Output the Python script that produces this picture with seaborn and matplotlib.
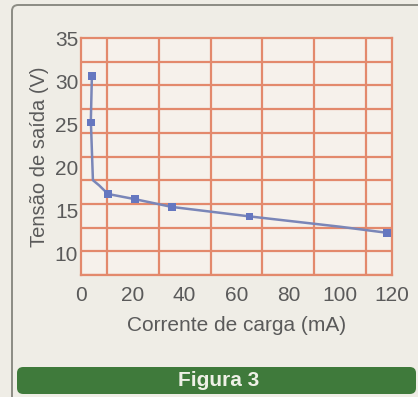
import numpy as np
import pandas as pd
import matplotlib
matplotlib.use("Agg")
import matplotlib.pyplot as plt
from matplotlib.patches import FancyBboxPatch
from matplotlib.ticker import FixedLocator, MultipleLocator
import seaborn as sns

# Data
current_line = [4.2, 3.8, 4.6, 7.0, 10.4, 20.8, 35.0, 65.0, 100.0, 118.0]
voltage_line = [30.6, 25.4, 18.5, 17.9, 16.9, 16.3, 15.4, 14.3, 13.1, 12.4]
current_marks = [4.2, 3.8, 10.4, 20.8, 35.0, 65.0, 118.0]
voltage_marks = [30.6, 25.2, 16.9, 16.3, 15.4, 14.3, 12.4]
x_ticks = [0, 20, 40, 60, 80, 100, 120]
y_ticks = [10, 15, 20, 25, 30, 35]
x_label = "Corrente de carga (mA)"
y_label = "Tensão de saída (V)"
caption = "Figura 3"

sns.set_theme(style="white")
plt.rcParams["font.family"] = ["Liberation Sans", "DejaVu Sans"]

fig_bg = "#efede6"
ax_bg = "#f6f1eb"
grid_c = "#e3896c"
text_c = "#5a5a5a"

fig = plt.figure(figsize=(4.18, 3.97), dpi=100, facecolor=fig_bg)

# outer frame (top and left lines with rounded corner)
frame = FancyBboxPatch((12 / 418, -0.2), 1.2, (392 - 5 + 80) / 397 + 0.0,
                       boxstyle="round,pad=0,rounding_size=0.015",
                       transform=fig.transFigure, facecolor="none",
                       edgecolor="#8c8c84", linewidth=1.4)
frame.set_bounds(12 / 418, -0.1, 1.2, 1 - 5 / 397 + 0.1)
fig.patches.append(frame)

ax = fig.add_axes([81 / 418, 1 - 275 / 397, 311 / 418, 237 / 397])
ax.set_facecolor(ax_bg)

df_line = pd.DataFrame({"x": current_line, "y": voltage_line})
df_marks = pd.DataFrame({"x": current_marks, "y": voltage_marks})

sns.lineplot(data=df_line, x="x", y="y", ax=ax, color="#7a86b8",
             linewidth=1.8, sort=False, estimator=None, zorder=3)
sns.scatterplot(data=df_marks, x="x", y="y", ax=ax, color="#6577c0",
                marker="s", s=30, edgecolor="none", zorder=4)

ax.set_xlim(0, 120)
ax.set_ylim(7.5, 35)
ax.xaxis.set_major_locator(FixedLocator(x_ticks))
ax.xaxis.set_minor_locator(MultipleLocator(10))
ax.yaxis.set_major_locator(FixedLocator(y_ticks))
ax.yaxis.set_minor_locator(FixedLocator(list(np.linspace(7.5, 35, 11))))
ax.grid(False)
ax.grid(which="minor", color=grid_c, linewidth=1.6)
ax.tick_params(which="both", length=0)
ax.tick_params(axis="x", pad=8, labelsize=15, labelcolor=text_c)
ax.tick_params(axis="y", pad=2, labelsize=15, labelcolor=text_c)
for s in ax.spines.values():
    s.set_color(grid_c)
    s.set_linewidth(1.6)

ax.set_xlabel(x_label, fontsize=15, color=text_c, labelpad=8)
ax.set_ylabel(y_label, fontsize=14.5, color=text_c, labelpad=4)

# caption bar
bar = FancyBboxPatch((17 / 418, 1 - 394 / 397), (416 - 17) / 418, 27 / 397,
                     boxstyle="round,pad=0,rounding_size=0.015",
                     transform=fig.transFigure, facecolor="#3f7a3b",
                     edgecolor="none")
fig.patches.append(bar)
fig.text(219 / 418, 1 - 381 / 397, caption, color="#eef0e6", fontsize=15,
         fontweight="bold", ha="center", va="center")

fig.savefig("out.png", dpi=100, facecolor=fig_bg)
